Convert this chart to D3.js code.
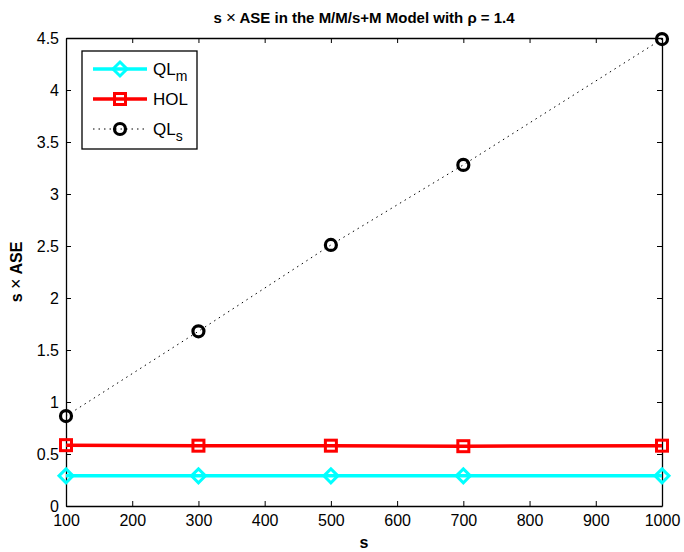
<!DOCTYPE html>
<html>
<head>
<meta charset="utf-8">
<script src="https://cdn.jsdelivr.net/npm/d3@7"></script>
<style>
  body { margin: 0; background: #fff; }
  svg text { font-family: "Liberation Sans", Arial, sans-serif; }
</style>
</head>
<body>
<div id="graph"></div>
<script>
"use strict";

// values
const sValues = [100, 300, 500, 700, 1000];
const qlmValues = [0.29, 0.29, 0.29, 0.29, 0.29];
const holValues = [0.585, 0.58, 0.58, 0.575, 0.58];
const qlsValues = [0.865, 1.68, 2.51, 3.28, 4.49];
const xTicks = [100, 200, 300, 400, 500, 600, 700, 800, 900, 1000];
const yTicks = [0, 0.5, 1, 1.5, 2, 2.5, 3, 3.5, 4, 4.5];

const svgWidth = 684;
const svgHeight = 552;
const margin = { top: 38, right: 22, bottom: 46, left: 66 };
const width = svgWidth - margin.left - margin.right;
const height = svgHeight - margin.top - margin.bottom;

const svg = d3.select("#graph")
    .append("svg")
    .attr("width", svgWidth)
    .attr("height", svgHeight);

const g = svg.append("g")
    .attr("transform", "translate(" + margin.left + "," + margin.top + ")");

const xScale = d3.scaleLinear().domain([100, 1000]).range([0, width]);
const yScale = d3.scaleLinear().domain([0, 4.5]).range([height, 0]);

// axes, MATLAB style: ticks inward on all four sides
const fmt = d => String(d);
g.append("g")
    .attr("transform", "translate(0," + height + ")")
    .call(d3.axisBottom(xScale).tickValues(xTicks).tickFormat(fmt).tickSizeInner(-5).tickSizeOuter(0).tickPadding(9));
g.append("g")
    .call(d3.axisTop(xScale).tickValues(xTicks).tickFormat("").tickSizeInner(-5).tickSizeOuter(0));
g.append("g")
    .call(d3.axisLeft(yScale).tickValues(yTicks).tickFormat(fmt).tickSizeInner(-5).tickSizeOuter(0).tickPadding(7));
g.append("g")
    .attr("transform", "translate(" + width + ",0)")
    .call(d3.axisRight(yScale).tickValues(yTicks).tickFormat("").tickSizeInner(-5).tickSizeOuter(0));

g.selectAll(".domain").attr("stroke", "#000").attr("stroke-width", 1.3);
g.selectAll(".tick line").attr("stroke", "#000").attr("stroke-width", 1);
g.selectAll(".tick text").attr("font-size", 16).attr("fill", "#000");

// series
const series = [
    { name: "QL", sub: "m", values: qlmValues, color: "#00ffff", width: 3.5, dash: null, marker: "diamond" },
    { name: "HOL", sub: "", values: holValues, color: "#ff0000", width: 3.5, dash: null, marker: "square" },
    { name: "QL", sub: "s", values: qlsValues, color: "#000000", width: 1, dash: "1.5,4", marker: "circle" }
];

const line = d3.line()
    .x((d, i) => xScale(sValues[i]))
    .y(d => yScale(d));

function drawMarker(sel, type, color) {
    if (type === "diamond") {
        sel.append("path").attr("d", "M0,-7L7,0L0,7L-7,0Z")
            .attr("fill", "none").attr("stroke", color).attr("stroke-width", 3);
    } else if (type === "square") {
        sel.append("rect").attr("x", -5.5).attr("y", -5.5).attr("width", 11).attr("height", 11)
            .attr("fill", "none").attr("stroke", color).attr("stroke-width", 3);
    } else {
        sel.append("circle").attr("r", 5.5)
            .attr("fill", "none").attr("stroke", color).attr("stroke-width", 3.2);
    }
}

series.forEach(s => {
    g.append("path")
        .datum(s.values)
        .attr("d", line)
        .attr("fill", "none")
        .attr("stroke", s.color)
        .attr("stroke-width", s.width)
        .attr("stroke-dasharray", s.dash);
    s.values.forEach((v, i) => {
        const m = g.append("g").attr("transform", "translate(" + xScale(sValues[i]) + "," + yScale(v) + ")");
        drawMarker(m, s.marker, s.color);
    });
});

// legend
const legend = svg.append("g").attr("transform", "translate(82,51)");
legend.append("rect")
    .attr("width", 115).attr("height", 98)
    .attr("fill", "#fff").attr("stroke", "#000").attr("stroke-width", 1.3);
series.forEach((s, i) => {
    const y = 18 + i * 30;
    const row = legend.append("g").attr("transform", "translate(0," + y + ")");
    row.append("line")
        .attr("x1", 11).attr("x2", 65).attr("y1", 0).attr("y2", 0)
        .attr("stroke", s.color).attr("stroke-width", s.width)
        .attr("stroke-dasharray", s.dash);
    const m = row.append("g").attr("transform", "translate(38,0)");
    drawMarker(m, s.marker, s.color);
    const t = row.append("text").attr("x", 71).attr("y", 6).attr("font-size", 17).attr("fill", "#000").text(s.name);
    if (s.sub) t.append("tspan").attr("dy", 6).attr("font-size", 14).text(s.sub);
});

// title and axis labels
const title = svg.append("text")
    .attr("x", margin.left + width / 2).attr("y", 23)
    .attr("text-anchor", "middle").attr("font-size", 15).attr("font-weight", "bold");
title.append("tspan").text("s ");
title.append("tspan").attr("font-weight", "normal").attr("font-size", 17).text("\u00d7");
title.append("tspan").text(" ASE in the M/M/s+M Model with \u03c1 = 1.4");

svg.append("text")
    .attr("x", margin.left + width / 2).attr("y", 548)
    .attr("text-anchor", "middle").attr("font-size", 16).attr("font-weight", "bold")
    .text("s");
const ylab = svg.append("text")
    .attr("transform", "translate(22," + (margin.top + height / 2) + ") rotate(-90)")
    .attr("text-anchor", "middle").attr("font-size", 16).attr("font-weight", "bold");
ylab.append("tspan").text("s ");
ylab.append("tspan").attr("font-weight", "normal").attr("font-size", 18).text("\u00d7");
ylab.append("tspan").text(" ASE");
</script>
</body>
</html>
